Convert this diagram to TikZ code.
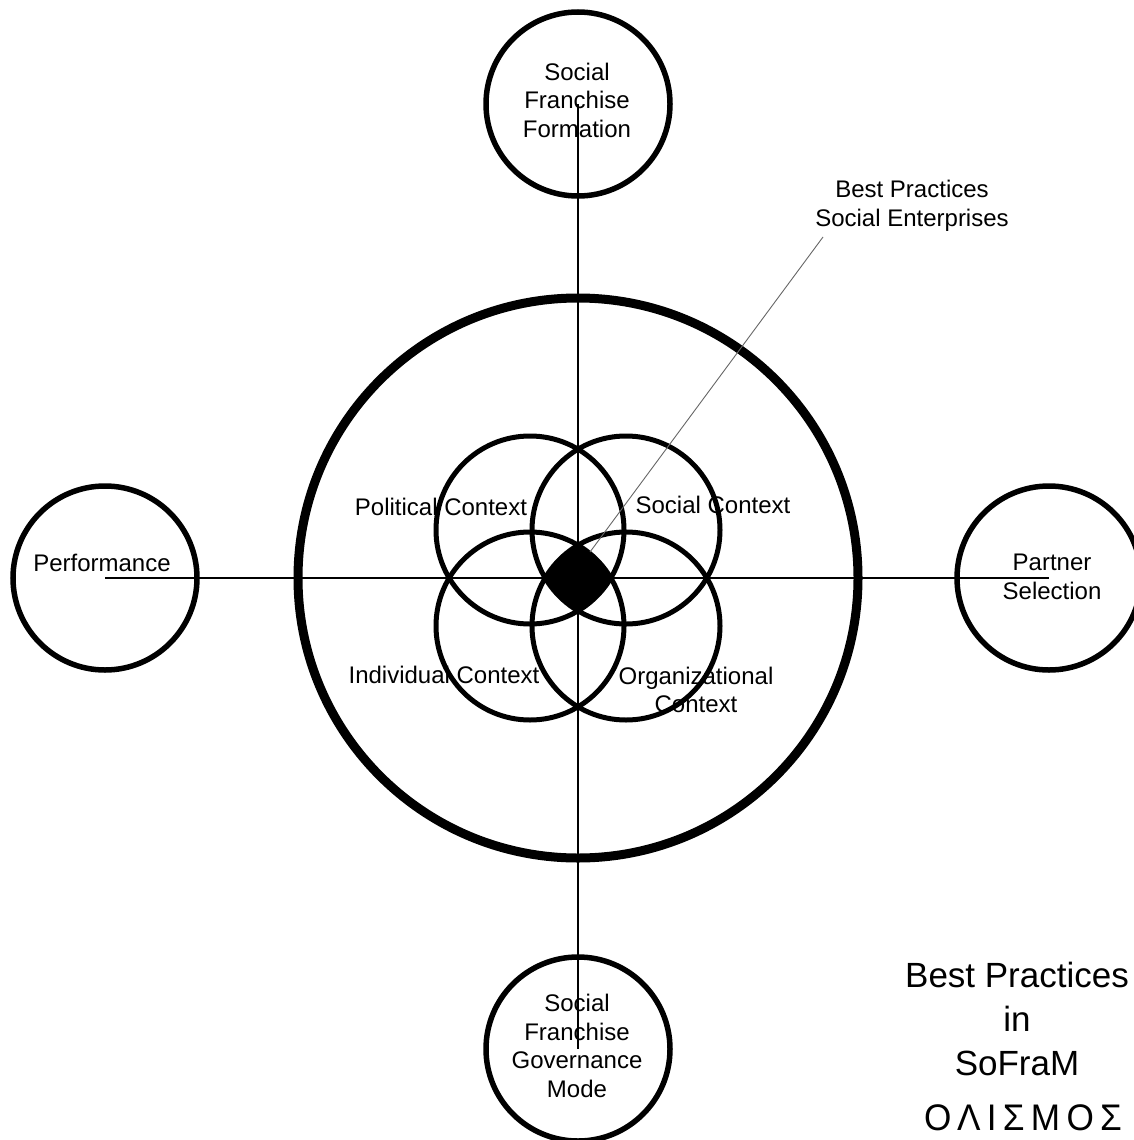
\documentclass[tikz,border=0pt]{standalone}
\usepackage{fontspec}
\setmainfont{Liberation Sans}
\newfontfamily\greekfont[FakeStretch=0.95]{Liberation Sans}
\begin{document}
\begin{tikzpicture}[x=1pt,y=-1pt,
  ring/.style={circle,draw,line width=5.5pt,minimum size=184pt,inner sep=0pt},
  vring/.style={circle,draw,line width=5pt,minimum size=188pt,inner sep=0pt},
  hub/.style={circle,draw,line width=9pt,minimum size=560pt,inner sep=0pt},
  axis/.style={line width=2.5pt},
  leader/.style={line width=0.9pt,draw=black!60},
  lbl/.style={font=\fontsize{24}{28.5}\selectfont,align=center,inner sep=0pt},
  title/.style={font=\fontsize{35}{44}\selectfont,align=center,inner sep=0pt}]
\useasboundingbox (0,0) rectangle (1134,1140);

% outer stages
\node[ring] (formation)  at (578,104)  {};
\node[ring] (governance) at (578,1049) {};
\node[ring] (performance) at (105,578) {};
\node[ring] (partner)    at (1049,578) {};

% axes joining the stages
\draw[axis] (performance.center) -- (partner.center);
\draw[axis] (formation.center) -- (governance.center);

% context ring
\node[hub] (ctx) at (578,578) {};

% four overlapping contexts
\node[vring] (political)  at (530,530) {};
\node[vring] (social)     at (626,530) {};
\node[vring] (individual) at (530,626) {};
\node[vring] (organiz)    at (626,626) {};

% leader to the common core
\coordinate (bpsetip) at (823,237);
\coordinate (core) at (590,552);
\draw[leader] (bpsetip) -- (core);

% common core: intersection of the four contexts
\begin{scope}
  \clip (530,530) circle (94pt);
  \clip (626,530) circle (94pt);
  \clip (530,626) circle (94pt);
  \fill (626,626) circle (94pt);
\end{scope}

% labels
\node[lbl] (tformation) at (577,100) {Social\\Franchise\\Formation};
\node[lbl] (tgovern) at (577,1046) {Social\\Franchise\\Governance\\Mode};
\node[lbl] (tperf) at (102,563) {Performance};
\node[lbl] (tpartner) at (1052,577) {Partner\\Selection};
\node[lbl] (tpol) at (441,507) {Political Context};
\node[lbl] (tsoc) at (713,505) {Social Context};
\node[lbl] (tind) at (444,675) {Individual Context};
\node[lbl] (torg) at (696,690) {Organizational\\Context};
\node[lbl] (tbpse) at (912,206) {Best Practices\\Social Enterprises};

\node[title] (tmain) at (1017,1019) {Best Practices\\in\\SoFraM};
\node[inner sep=0pt,font=\greekfont\fontsize{37}{40}\selectfont\addfontfeature{LetterSpace=17}] (tgreek) at (1023,1118) {ΟΛΙΣΜΟΣ};
\end{tikzpicture}
\end{document}
